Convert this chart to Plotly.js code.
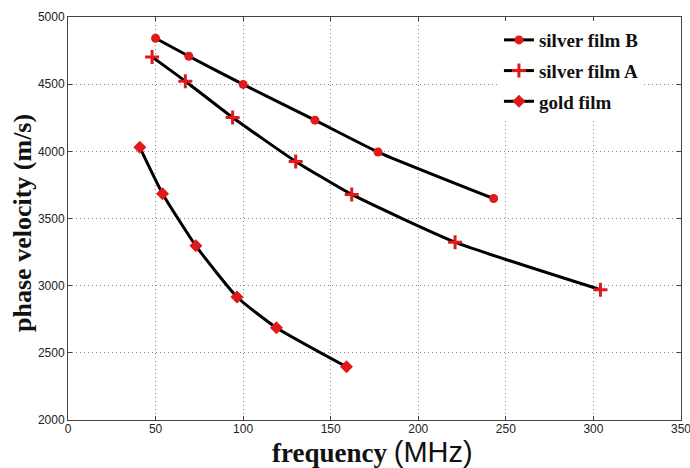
<!DOCTYPE html>
<html>
<head>
<meta charset="utf-8">
<script src="https://cdn.plot.ly/plotly-3.0.1.min.js"></script>
<style>html,body{margin:0;padding:0;background:#fff;}#chart{width:690px;height:468px;}</style>
</head>
<body>
<div id="chart"></div>
<script>
const silverB_x = [50, 69, 100, 141, 177, 243];
const silverB_y = [4842, 4708, 4498, 4232, 3995, 3649];
const silverA_x = [48, 67, 94, 130, 162, 221, 304];
const silverA_y = [4703, 4522, 4252, 3925, 3679, 3324, 2970];
const gold_x = [41, 54, 73, 96.5, 119, 159];
const gold_y = [4030, 3685, 3297, 2916, 2687, 2396];
const seriesNames = ['silver film B', 'silver film A', 'gold film'];
const xTicks = [0, 50, 100, 150, 200, 250, 300, 350];
const yTicks = [2000, 2500, 3000, 3500, 4000, 4500, 5000];

const red = '#e01a1a';
function tr(x, y, name, symbol, size, g) {
  return {
    x: x, y: y, name: name, type: 'scatter', mode: 'lines+markers', legendgroup: g,
    line: {color: '#000', width: 3, shape: 'spline', smoothing: 0.5},
    marker: {color: red, symbol: symbol, size: size, line: {color: red, width: 0}}
  };
}
const data = [
  tr(silverB_x, silverB_y, seriesNames[0], 'circle', 9, 'b'),
  tr(silverA_x, silverA_y, seriesNames[1], 'cross-thin', 10, 'a'),
  tr(gold_x, gold_y, seriesNames[2], 'diamond', 10, 'g')
];
data[1].marker.line = {color: red, width: 3};

const tickFont = {family: 'Liberation Sans, Arial, sans-serif', size: 12, color: '#222'};
const layout = {
  width: 690, height: 468,
  margin: {l: 68, r: 9, t: 17, b: 48},
  paper_bgcolor: '#fff', plot_bgcolor: '#fff',
  showlegend: true,
  legend: {
    x: 0.703, y: 0.99, xanchor: 'left', yanchor: 'top',
    bgcolor: '#fff', borderwidth: 0,
    font: {family: 'Liberation Serif, Times New Roman, serif', size: 19, color: '#111', weight: 'bold'},
    itemwidth: 30, tracegroupgap: 3
  },
  xaxis: {
    range: [0, 350], tickvals: xTicks, ticktext: xTicks.map(String),
    showgrid: true, gridcolor: '#888', griddash: '1px,3px', gridwidth: 1,
    zeroline: false, showline: true, linecolor: '#444', linewidth: 1, mirror: 'ticks',
    ticks: 'inside', ticklen: 4, tickcolor: '#444', ticklabeloverflow: 'allow',
    ticklabelstandoff: -2,
    tickfont: tickFont
  },
  yaxis: {
    range: [2000, 5000], tickvals: yTicks, ticktext: yTicks.map(String),
    showgrid: true, gridcolor: '#888', griddash: '1px,3px', gridwidth: 1,
    zeroline: false, showline: true, linecolor: '#444', linewidth: 1, mirror: 'ticks',
    ticks: 'inside', ticklen: 4, tickcolor: '#444', ticklabeloverflow: 'allow',
    tickfont: tickFont
  },
  annotations: [{
    text: '<b>phase velocity (m/s)</b>', textangle: -90,
    xref: 'paper', yref: 'paper', x: 0, y: 0.489, xanchor: 'center', yanchor: 'middle',
    xshift: -45, showarrow: false,
    font: {family: 'Liberation Serif, Times New Roman, serif', size: 26, color: '#111'}
  }, {
    text: "<b>frequency</b> <span style='font-family:Liberation Sans, Arial, sans-serif;font-size:29px'>(MHz)</span>",
    xref: 'paper', yref: 'paper', x: 0.5, y: 0, xanchor: 'center', yanchor: 'bottom',
    xshift: -2, yshift: -49, showarrow: false, borderpad: 0,
    font: {family: 'Liberation Serif, Times New Roman, serif', size: 27, color: '#111'}
  }]
};
Plotly.newPlot('chart', data, layout, {displayModeBar: false, staticPlot: true});
</script>
</body>
</html>
